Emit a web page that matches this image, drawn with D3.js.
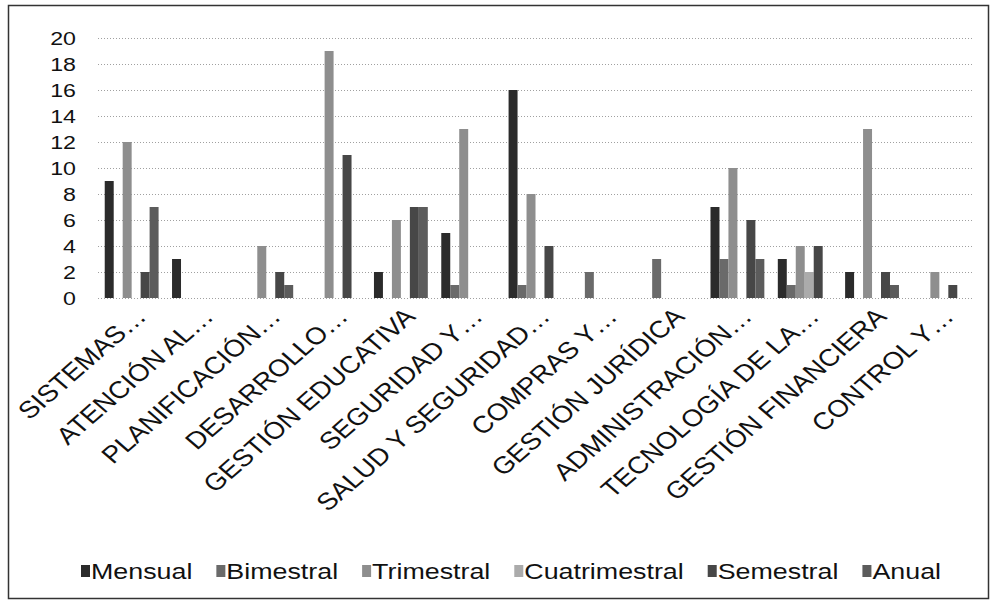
<!DOCTYPE html>
<meta charset="utf-8">
<style>
body { margin: 0; background: #fff; }
text { font-family: "Liberation Sans", Arial, sans-serif; fill: #111; }
.grid line { stroke: #a0a0a0; stroke-dasharray: 1,2; }
</style>
<svg width="994" height="612"></svg>
<script src="https://d3js.org/d3.v7.min.js"></script>
<script>

var categories = ["SISTEMAS…", "ATENCIÓN AL…", "PLANIFICACIÓN…", "DESARROLLO…", "GESTIÓN EDUCATIVA",
  "SEGURIDAD Y…", "SALUD Y SEGURIDAD…", "COMPRAS Y…", "GESTIÓN JURÍDICA", "ADMINISTRACIÓN…",
  "TECNOLOGÍA DE LA…", "GESTIÓN FINANCIERA", "CONTROL Y…"];

var seriesNames = ["Mensual", "Bimestral", "Trimestral", "Cuatrimestral", "Semestral", "Anual"];

var mensual       = [9, 3, 0, 0, 2, 5, 16, 0, 0, 7, 3, 2, 0];
var bimestral     = [0, 0, 0, 0, 0, 1, 1, 2, 3, 3, 1, 0, 0];
var trimestral    = [12, 0, 4, 19, 6, 13, 8, 0, 0, 10, 4, 13, 2];
var cuatrimestral = [0, 0, 0, 0, 0, 0, 0, 0, 0, 0, 2, 0, 0];
var semestral     = [2, 0, 2, 11, 7, 0, 4, 0, 0, 6, 4, 2, 1];
var anual         = [7, 0, 1, 0, 7, 0, 0, 0, 0, 3, 0, 1, 0];

var yTicks = [0, 2, 4, 6, 8, 10, 12, 14, 16, 18, 20];

var seriesValues = [mensual, bimestral, trimestral, cuatrimestral, semestral, anual];
var colors = ["#2b2b2b", "#6a6a6a", "#8e8e8e", "#ababab", "#474747", "#5c5c5c"];

// the scan is stretched sideways, text gets the same stretch
var sx = 1.22;
var sxLabels = 1.15;

var svg = d3.select("svg");

svg.append("rect")
    .attr("x", 8.5).attr("y", 5.5)
    .attr("width", 980).attr("height", 593)
    .attr("fill", "none")
    .attr("stroke", "#333")
    .attr("stroke-width", 1.5);

var plotLeft = 98, plotRight = 973, plotTop = 38, plotBottom = 298;

var x0 = d3.scaleBand()
    .domain(categories)
    .range([plotLeft, plotRight])
    .paddingInner(0.2)
    .paddingOuter(0.1);

var x1 = d3.scaleBand()
    .domain(seriesNames)
    .range([0, x0.bandwidth()]);

var y = d3.scaleLinear()
    .domain([0, 20])
    .range([plotBottom, plotTop]);

var color = d3.scaleOrdinal().domain(seriesNames).range(colors);

// grid
svg.append("g")
    .attr("class", "grid")
  .selectAll("line")
  .data(yTicks)
  .enter().append("line")
    .attr("x1", plotLeft)
    .attr("x2", plotRight)
    .attr("y1", function(d) { return Math.round(y(d)) + 0.5; })
    .attr("y2", function(d) { return Math.round(y(d)) + 0.5; });

// y labels
svg.append("g")
  .selectAll("text")
  .data(yTicks)
  .enter().append("text")
    .attr("transform", function(d) { return "translate(76," + y(d) + ") scale(" + sx + ",1)"; })
    .attr("dy", "0.36em")
    .attr("text-anchor", "end")
    .style("font-size", "19px")
    .text(function(d) { return d; });

// bars
var groups = svg.append("g")
  .selectAll("g")
  .data(categories)
  .enter().append("g")
    .attr("transform", function(d) { return "translate(" + x0(d) + ",0)"; });

groups.selectAll("rect")
  .data(function(d, i) {
    return seriesNames.map(function(s, j) { return {key: s, value: seriesValues[j][i]}; });
  })
  .enter().append("rect")
    .attr("x", function(d) { return x1(d.key); })
    .attr("y", function(d) { return y(d.value); })
    .attr("width", x1.bandwidth())
    .attr("height", function(d) { return y(0) - y(d.value); })
    .attr("fill", function(d) { return color(d.key); });

// x labels
svg.append("g")
  .selectAll("text")
  .data(categories)
  .enter().append("text")
    .attr("transform", function(d) {
      var cx = x0(d) + x0.bandwidth() / 2 + 16;
      return "translate(" + cx + ",318) scale(" + sxLabels + ",1) rotate(-45)";
    })
    .attr("text-anchor", "end")
    .style("font-size", "24px")
    .text(function(d) { return d; });

// legend
var legend = svg.append("g");
var lx = 0;
seriesNames.forEach(function(s) {
  var item = legend.append("g").attr("transform", "translate(" + lx + ",0)");
  item.append("rect")
    .attr("x", 0).attr("y", -14)
    .attr("width", 9).attr("height", 12)
    .attr("fill", color(s));
  var t = item.append("text")
    .attr("transform", "translate(10,0) scale(" + sx + ",1)")
    .style("font-size", "22px")
    .text(s);
  lx += 10 + t.node().getComputedTextLength() * sx + 24;
});
lx -= 24;
legend.attr("transform", "translate(" + (511 - lx / 2) + ",579)");

</script>
